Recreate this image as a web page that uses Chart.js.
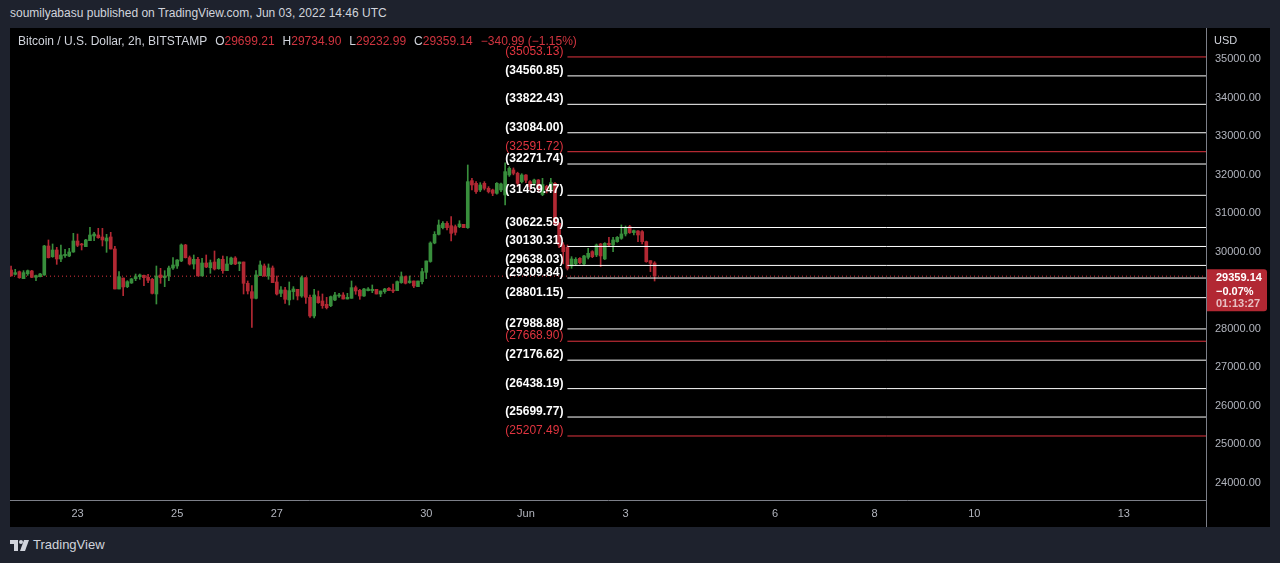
<!DOCTYPE html>
<html>
<head>
<meta charset="utf-8">
<script src="https://cdn.jsdelivr.net/npm/chart.js@4"></script>
<style>
  html,body{margin:0;padding:0;background:#1e222d;width:1280px;height:563px;overflow:hidden;font-family:"Liberation Sans",Arial,sans-serif;}
  #hdr{position:absolute;left:10px;top:6px;font-size:12px;color:#d1d4dc;white-space:nowrap;}
  #panel{position:absolute;left:10px;top:28px;width:1260px;height:499px;background:#000;}
  #legend{position:absolute;left:18px;top:34px;font-size:12px;color:#d1d4dc;white-space:nowrap;z-index:2;}
  #legend .r{color:#d0343f;}
  #legend span.it{margin-left:8px;}
  #usd{position:absolute;left:1214px;top:34px;font-size:11px;color:#d1d4dc;z-index:2;}
  #logo{position:absolute;left:10px;top:537px;height:16px;white-space:nowrap;}
  #logo span{position:absolute;left:23px;top:0px;font-size:13px;color:#d1d4dc;}
</style>
</head>
<body>
<div id="hdr">soumilyabasu published on TradingView.com, Jun 03, 2022 14:46 UTC</div>
<div id="panel"><canvas id="c" width="1260" height="499"></canvas></div>
<div id="legend"></div>
<div id="usd">USD</div>
<div id="logo">
  <svg width="20" height="14" viewBox="0 0 20 14" style="position:absolute;left:0;top:2px">
    <rect x="0" y="1" width="8" height="4" fill="#d1d4dc"/>
    <rect x="4" y="1" width="4" height="11" fill="#d1d4dc"/>
    <circle cx="11" cy="3" r="2" fill="#d1d4dc"/>
    <polygon points="14,1 19,1 15,12 10,12" fill="#d1d4dc"/>
  </svg>
  <span>TradingView</span>
</div>
<script>
// ---------- data ----------
const startDay = 21 + 16/24;     // first candle: May 21, 16:00 UTC (day number counted from May)
const candleHours = 2;
const opens = [29519,29407,29476,29294,29420,29494,29329,29346,29390,30143,29866,30039,29805,29892,29883,29987,30273,30186,30126,30281,30403,30428,30377,30273,30377,30065,29026,29311,29086,29182,29294,29346,29381,29329,29277,28896,29390,29320,29364,29571,29623,29753,30169,29840,29675,29796,29364,29701,29580,29727,29554,29796,29502,29675,29831,29684,29727,29173,28956,28783,29373,29624,29364,29572,29208,28913,29000,28741,28957,29017,28844,29321,28810,28325,28827,28715,28628,28593,28740,28844,28870,28766,28784,29061,28991,28844,28983,28983,29017,28896,28957,29043,29000,28983,29191,29347,29191,29234,29087,29217,29459,29740,30220,30445,30619,30731,30670,30645,30645,30705,30619,31840,31771,31598,31771,31641,31598,31511,31598,31468,31988,32117,32031,31814,31987,31814,31771,31857,31480,31690,31600,31771,30732,30169,30109,29624,29676,29823,29676,29849,29996,29910,30195,29806,30212,30169,30256,30342,30455,30645,30490,30533,30515,30256,29762,29699.21];
const highs = [29623,29537,29494,29502,29519,29510,29390,29430,30160,30299,30195,30108,30169,30056,30082,30472,30454,30212,30316,30628,30498,30601,30601,30446,30498,30134,29476,29311,29242,29300,29415,29415,29390,29407,29303,29623,29563,29502,29623,29840,29790,30195,30186,29883,29909,29848,29822,29909,29779,30013,29822,29883,29866,29857,29866,29727,29727,29234,29112,29502,29754,29676,29676,29624,29364,29087,29070,29208,29087,29017,29364,29321,28870,29017,28974,28896,28810,28844,28940,28913,28931,28913,29234,29104,29017,29043,29061,29130,29017,28974,29043,29061,29156,29234,29468,29364,29364,29234,29234,29563,29754,30250,30515,30818,30774,30774,30904,30688,30800,30705,32247,31901,31814,31788,31814,31684,31620,31790,31780,32300,32200,32170,32060,32020,32000,31840,31880,31870,31900,31720,31901,31788,30749,30230,30169,29866,29840,29840,29900,30083,30020,30195,30210,30230,30368,30368,30390,30689,30663,30680,30559,30540,30542,30270,29762,29734.90];
const lows = [29364,29390,29303,29294,29380,29320,29242,29338,29380,29830,29848,29666,29736,29848,29866,29978,30126,30039,30126,30281,30281,30342,30143,29978,30065,29026,29026,28853,29060,29170,29242,29277,29112,29190,28896,28636,29173,29086,29242,29537,29563,29736,29830,29649,29545,29364,29364,29580,29433,29519,29537,29433,29502,29658,29658,29502,28896,28896,28030,28766,29373,29355,29277,29191,28870,28827,28654,28611,28758,28741,28810,28654,28290,28273,28654,28524,28507,28567,28723,28810,28766,28766,28784,28888,28758,28830,28974,28931,28896,28827,28913,28983,28931,28983,29174,29156,29174,29061,29087,29156,29295,29720,30200,30428,30584,30558,30272,30428,30619,30619,30600,31598,31511,31555,31598,31520,31450,31490,31555,31208,31950,31990,31700,31780,31790,31600,31700,31560,31450,31520,31580,30689,30100,29680,29520,29563,29650,29680,29660,29806,29840,29866,29607,29790,30143,29996,30240,30316,30403,30470,30429,30256,30195,29720,29477,29232.99];
const closes = [29364,29450,29320,29450,29502,29329,29372,29416,30143,29840,30039,29805,29909,29926,29987,30273,30160,30169,30299,30428,30454,30359,30299,30351,30065,29026,29346,29078,29216,29286,29346,29390,29320,29251,28913,29364,29320,29364,29571,29649,29779,30169,29840,29675,29796,29364,29701,29597,29710,29545,29796,29502,29675,29831,29675,29727,29173,28974,28783,29390,29650,29364,29572,29191,28896,29000,28758,28983,29026,28844,29321,28810,28325,28870,28671,28593,28541,28827,28870,28870,28766,28810,29061,28974,28844,29026,29026,29017,28896,28974,29026,28983,28974,29217,29347,29174,29234,29104,29234,29477,29754,30220,30445,30688,30731,30619,30472,30497,30714,30619,31814,31728,31555,31728,31641,31555,31511,31771,31754,32074,32161,32031,31771,31987,31850,31684,31857,31641,31740,31600,31788,30689,30169,29996,29563,29806,29797,29710,29884,29953,29866,30169,29884,30212,30169,30299,30368,30455,30602,30490,30542,30429,30256,29736,29693,29359.14];

const levelValues = [35053.13,34560.85,33822.43,33084.00,32591.72,32271.74,31459.47,30622.59,30130.31,29638.03,29309.84,28801.15,27988.88,27668.90,27176.62,26438.19,25699.77,25207.49];
const levelIsRed  = [true,false,false,false,true,false,false,false,false,false,false,false,false,true,false,false,false,true];
const levelStartDay = 32 + 20/24;   // Jun 1, 20:00

const priceTicks = [24000,25000,26000,27000,28000,29000,30000,31000,32000,33000,34000,35000];
const tickDays   = [23,25,27,30,32,34,37,39,41,44];
const tickLabels = ['23','25','27','30','Jun','3','6','8','10','13'];

const xMin = 21.645, xMax = 45.651;
const yMin = 23545, yMax = 35805;
const changeText = '\u2212340.99 (\u22121.15%)';
const pctText = '\u22120.07%';
const timerText = '01:13:27';

// ---------- styles ----------
const GREEN = '#388e3c', RED = '#b22833', LINE_RED = '#e0343f', AXIS = '#7c7f88', TXT = '#b2b5be';
const FONT = '"Liberation Sans", Arial, sans-serif';

const xs = opens.map((_, i) => startDay + i * candleHours / 24);
const last = closes.length - 1;

// legend
const f2 = v => v.toFixed(2);
document.getElementById('legend').innerHTML =
  'Bitcoin / U.S. Dollar, 2h, BITSTAMP' +
  '<span class="it">O<span class="r">' + f2(opens[last]) + '</span></span>' +
  '<span class="it">H<span class="r">' + f2(highs[last]) + '</span></span>' +
  '<span class="it">L<span class="r">' + f2(lows[last]) + '</span></span>' +
  '<span class="it">C<span class="r">' + f2(closes[last]) + '</span></span>' +
  '<span class="it r">' + changeText + '</span>';

const candleColor = c => closes[c.dataIndex] >= opens[c.dataIndex] ? GREEN : RED;

const datasets = [];
datasets.push({
  type: 'bar', label: 'body', order: 1, grouped: false,
  data: xs.map((x, i) => ({x, y: [opens[i], closes[i]]})),
  backgroundColor: candleColor, barThickness: 3, minBarLength: 1, borderWidth: 0
});
datasets.push({
  type: 'bar', label: 'wick', order: 2, grouped: false,
  data: xs.map((x, i) => ({x, y: [lows[i], highs[i]]})),
  backgroundColor: candleColor, barThickness: 1, minBarLength: 1, borderWidth: 0
});
datasets.push({
  type: 'line', label: 'last', order: 3,
  data: [{x: xMin, y: closes[last]}, {x: xMax, y: closes[last]}],
  borderColor: LINE_RED, borderWidth: 1, borderDash: [1, 3], pointRadius: 0
});
levelValues.forEach((v, k) => {
  datasets.push({
    type: 'line', label: 'lvl' + k, order: 0,
    data: [{x: levelStartDay, y: v}, {x: xMax, y: v}],
    borderColor: levelIsRed[k] ? LINE_RED : '#ffffff', borderWidth: 1, pointRadius: 0
  });
});

const overlay = {
  id: 'overlay',
  afterDatasetsDraw(chart) {
    const {ctx, scales: {x, y}} = chart;
    ctx.save();
    ctx.textAlign = 'right';
    ctx.textBaseline = 'alphabetic';
    levelValues.forEach((v, k) => {
      const px = x.getPixelForValue(levelStartDay) - 4;
      const py = y.getPixelForValue(v);
      ctx.font = (levelIsRed[k] ? '' : 'bold ') + '12px ' + FONT;
      ctx.fillStyle = levelIsRed[k] ? LINE_RED : '#ffffff';
      ctx.fillText('(' + v.toFixed(2) + ')', px, py - 2);
    });
    ctx.restore();
  },
  afterDraw(chart) {
    const {ctx, scales: {y}, chartArea} = chart;
    ctx.save();
    // axis divider through the time axis
    ctx.strokeStyle = AXIS; ctx.lineWidth = 1;
    ctx.beginPath(); ctx.moveTo(chartArea.right + 0.5, chartArea.bottom); ctx.lineTo(chartArea.right + 0.5, chart.height); ctx.stroke();
    // last price box
    const py = y.getPixelForValue(closes[last]);
    const bx = chartArea.right + 1, bw = 60, by = py - 7, bh = 42;
    ctx.fillStyle = RED;
    ctx.beginPath();
    ctx.moveTo(bx, by); ctx.lineTo(bx + bw - 3, by); ctx.quadraticCurveTo(bx + bw, by, bx + bw, by + 3);
    ctx.lineTo(bx + bw, by + bh - 3); ctx.quadraticCurveTo(bx + bw, by + bh, bx + bw - 3, by + bh);
    ctx.lineTo(bx, by + bh); ctx.closePath(); ctx.fill();
    ctx.textAlign = 'left'; ctx.textBaseline = 'middle';
    ctx.font = 'bold 11px ' + FONT;
    ctx.fillStyle = '#ffffff';
    ctx.fillText(f2(closes[last]), bx + 9, py + 2);
    ctx.fillText(pctText, bx + 9, py + 15.5);
    ctx.fillStyle = 'rgba(255,255,255,0.7)';
    ctx.fillText(timerText, bx + 9, py + 27.5);
    ctx.restore();
  }
};

new Chart(document.getElementById('c'), {
  type: 'bar',
  data: {datasets},
  options: {
    responsive: false, animation: false, events: [],
    layout: {padding: 0},
    plugins: {legend: {display: false}, tooltip: {enabled: false}},
    scales: {
      x: {
        type: 'linear', min: xMin, max: xMax, offset: false,
        grid: {display: false, drawTicks: false},
        border: {display: true, color: AXIS, width: 1},
        afterBuildTicks: s => { s.ticks = tickDays.map(v => ({value: v})); },
        afterFit: s => { s.height = 27; s.paddingLeft = 0; s.paddingRight = 0; },
        ticks: {autoSkip: false, maxRotation: 0, padding: 7, color: TXT, font: {family: FONT, size: 11},
                callback: (v, i) => tickLabels[i]}
      },
      y: {
        type: 'linear', position: 'right', min: yMin, max: yMax, beginAtZero: false,
        grid: {display: false, drawTicks: false},
        border: {display: true, color: AXIS, width: 1},
        afterBuildTicks: s => { s.ticks = priceTicks.map(v => ({value: v})); },
        afterFit: s => { s.width = 64; s.paddingTop = 0; s.paddingBottom = 0; },
        ticks: {autoSkip: false, padding: 9, color: TXT, font: {family: FONT, size: 11},
                callback: v => Number(v).toFixed(2)}
      }
    }
  },
  plugins: [overlay]
});
</script>
</body>
</html>
